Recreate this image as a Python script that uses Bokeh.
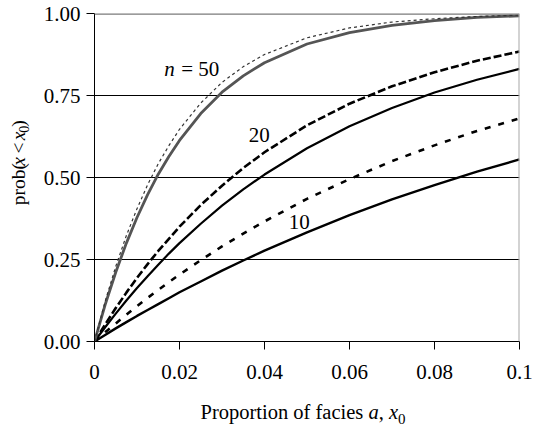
import math
from bokeh.plotting import figure
from bokeh.models import FixedTicker, Label, Span
from bokeh.layouts import column, row
from bokeh.embed import file_html
from bokeh.resources import INLINE

# ---- data ----
x_vals = [0, 0.0025, 0.005, 0.0075, 0.01, 0.0125, 0.015, 0.0175, 0.02, 0.025,
          0.03, 0.035, 0.04, 0.05, 0.06, 0.07, 0.08, 0.09, 0.1]

n50_solid = [0, 0.112, 0.211, 0.300, 0.378, 0.448, 0.510, 0.564, 0.613, 0.695,
             0.760, 0.810, 0.850, 0.907, 0.942, 0.964, 0.978, 0.988, 0.993]
n50_dashed = [0, 0.122, 0.229, 0.323, 0.405, 0.478, 0.542, 0.597, 0.647, 0.727,
              0.790, 0.838, 0.875, 0.926, 0.956, 0.974, 0.984, 0.991, 0.995]
n20_solid = [0, 0.0435, 0.085, 0.125, 0.163, 0.199, 0.234, 0.268, 0.300, 0.359,
             0.414, 0.464, 0.509, 0.589, 0.656, 0.712, 0.759, 0.798, 0.831]
n20_dashed = [0, 0.052, 0.102, 0.149, 0.194, 0.236, 0.276, 0.313, 0.350, 0.416,
              0.475, 0.529, 0.577, 0.659, 0.725, 0.778, 0.821, 0.856, 0.884]
n10_solid = [0, 0.020, 0.040, 0.059, 0.078, 0.096, 0.114, 0.132, 0.150, 0.183,
             0.216, 0.247, 0.277, 0.333, 0.385, 0.433, 0.477, 0.518, 0.555]
n10_dashed = [0, 0.028, 0.055, 0.082, 0.108, 0.133, 0.157, 0.181, 0.204, 0.248,
              0.290, 0.329, 0.366, 0.435, 0.495, 0.550, 0.598, 0.642, 0.680]

x_ticks = [0, 0.02, 0.04, 0.06, 0.08, 0.1]
x_tick_labels = ["0", "0.02", "0.04", "0.06", "0.08", "0.1"]
y_ticks = [0, 0.25, 0.5, 0.75, 1.0]
y_tick_labels = ["0.00", "0.25", "0.50", "0.75", "1.00"]
grid_levels = [0.25, 0.5, 0.75]

FONT = "Liberation Serif"

# ---------------- main chart ----------------
p = figure(width=508, height=395, x_range=(0, 0.1), y_range=(0, 1),
           output_backend="svg", toolbar_location=None,
           min_border_left=53, min_border_right=29,
           min_border_top=13, min_border_bottom=54)
p.outline_line_color = None
p.background_fill_color = "white"
p.border_fill_color = "white"

p.xgrid.visible = False
p.ygrid.ticker = FixedTicker(ticks=grid_levels)
p.ygrid.grid_line_color = "black"
p.ygrid.grid_line_width = 1

for ax in (p.xaxis, p.yaxis):
    ax.axis_line_color = "black"
    ax.axis_line_width = 1
    ax.major_tick_line_color = "black"
    ax.major_tick_in = 0
    ax.major_tick_out = 8
    ax.minor_tick_line_color = None
    ax.major_label_text_font = FONT
    ax.major_label_text_font_size = "21px"
    ax.major_label_text_color = "black"

p.xaxis.ticker = FixedTicker(ticks=x_ticks)
p.xaxis.major_label_overrides = {t: s for t, s in zip(x_ticks, x_tick_labels)}
p.xaxis.major_label_standoff = 15
p.yaxis.ticker = FixedTicker(ticks=y_ticks)
p.yaxis.major_label_overrides = {t: s for t, s in zip(y_ticks, y_tick_labels)}
p.yaxis.major_label_standoff = 6

# top and right frame lines (gray)
p.add_layout(Span(location=1.0, dimension="width", line_color="#7a7a7a", line_width=2.5))
p.add_layout(Span(location=0.1, dimension="height", line_color="#a8a8a8", line_width=2))

# curves
p.line(x_vals, n10_solid, line_color="black", line_width=2.4)
p.line(x_vals, n10_dashed, line_color="black", line_width=2.6, line_dash="6 8")
p.line(x_vals, n20_solid, line_color="black", line_width=2.2)
p.line(x_vals, n20_dashed, line_color="black", line_width=2.6, line_dash="8 3")
p.line(x_vals, n50_solid, line_color="#555555", line_width=2.8)
p.line(x_vals, n50_dashed, line_color="#333333", line_width=1.2, line_dash="3 3")


def lab(fig, text, x, y, size="21px", style="normal", angle=0, xo=0, yo=0):
    fig.add_layout(Label(x=x, y=y, text=text,
                         text_font=FONT, text_font_size=size, text_font_style=style,
                         text_color="black", text_align="left",
                         text_baseline="middle", angle=angle,
                         x_offset=xo, y_offset=yo))

# curve labels
lab(p, "n", 0.0164, 0.830, style="italic")
lab(p, "= 50", 0.0164, 0.830, xo=17)
lab(p, "20", 0.0363, 0.631)
lab(p, "10", 0.0457, 0.3647)


def blank(w, h):
    f = figure(width=w, height=h, x_range=(0, w), y_range=(0, h),
               output_backend="svg", toolbar_location=None,
               x_axis_type=None, y_axis_type=None,
               min_border_left=0, min_border_right=0,
               min_border_top=0, min_border_bottom=0)
    f.outline_line_color = None
    f.grid.visible = False
    f.background_fill_color = "white"
    f.border_fill_color = "white"
    return f

# ---------------- y axis title (rotated) ----------------
fy = blank(40, 395)
r = math.pi / 2
ys = "19.5px"
lab(fy, "prob(", 18.1, 164.0, size=ys, angle=r)
lab(fy, "x", 18.1, 211.5, size=ys, style="italic", angle=r)
lab(fy, "<", 18.1, 226.5, size=ys, angle=r)
lab(fy, "x", 18.1, 242.5, size=ys, style="italic", angle=r)
lab(fy, "0", 23.9, 251.5, size="14px", angle=r)
lab(fy, ")", 18.1, 258.5, size=ys, angle=r)

# ---------------- x axis title ----------------
fx = blank(548, 32)
lab(fx, "Proportion of facies", 200.0, 15.1, size="20.5px")
lab(fx, "a", 367.9, 15.1, size="20.5px", style="italic")
lab(fx, ",", 378.2, 15.1, size="20.5px")
lab(fx, "x", 388.4, 15.1, size="20.5px", style="italic")
lab(fx, "0", 397.5, 9.0, size="15px")

layout = column(row(fy, p), fx)
open("out.html", "w").write(file_html(layout, INLINE))
